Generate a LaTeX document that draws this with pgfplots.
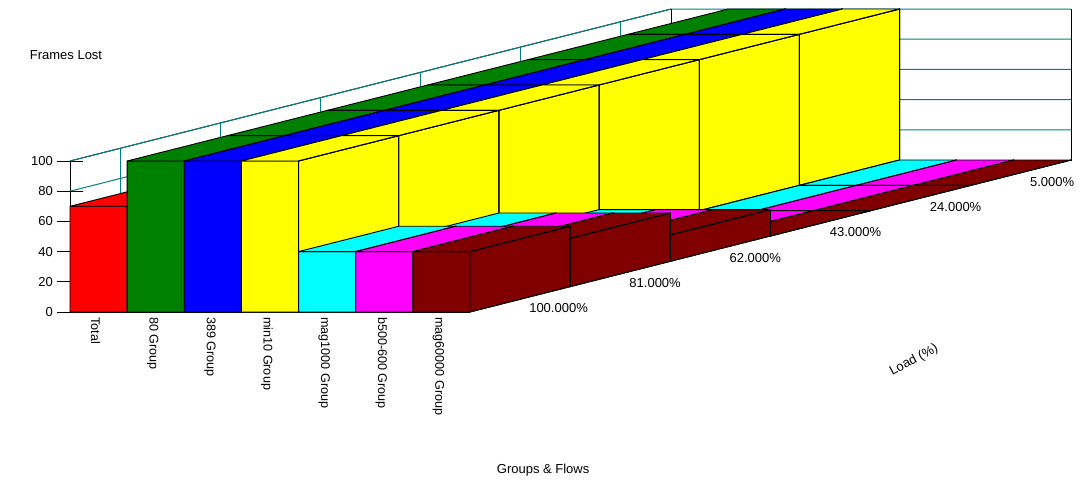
\documentclass[border=0pt]{standalone}
\usepackage{fontspec}
\setmainfont{Liberation Sans}
\usepackage{pgfplots}
\pgfplotsset{compat=1.18}
\definecolor{cmaroon}{HTML}{800000}
\definecolor{cgreen}{HTML}{008000}
\definecolor{cteal}{HTML}{008080}
\definecolor{cred}{HTML}{FF0000}
\definecolor{cblue}{HTML}{0000FF}
\definecolor{cyellow}{HTML}{FFFF00}
\definecolor{ccyan}{HTML}{00FFFF}
\definecolor{cmagenta}{HTML}{FF00FF}
% one bar: category index, load row, value, colour
\newcommand{\onebar}[4]{%
  \pgfmathtruncatemacro{\xa}{#1+1}%
  \pgfmathtruncatemacro{\yb}{#2+1}%
  \addplot3[fill=#4,draw=black,line width=0.9pt,line join=round] coordinates {(#1,#2,0)(\xa,#2,0)(\xa,\yb,0)(\xa,\yb,#3)(\xa,#2,#3)(#1,#2,#3)(#1,#2,0)};
  \addplot3[fill=#4,draw=black,line width=0.9pt,line join=round] coordinates {(#1,#2,#3)(\xa,#2,#3)(\xa,\yb,#3)(#1,\yb,#3)(#1,#2,#3)};
  \addplot3[draw=black,line width=0.9pt] coordinates {(\xa,#2,#3)(\xa,#2,0)(\xa,\yb,0)(\xa,\yb,#3)(\xa,#2,#3)};
}
% the six categories behind Total in one load row
\newcommand{\onerow}[7]{%
  \onebar{1}{#1}{#2}{cgreen}
  \onebar{2}{#1}{#3}{cblue}
  \onebar{3}{#1}{#4}{cyellow}
  \onebar{4}{#1}{#5}{ccyan}
  \onebar{5}{#1}{#6}{cmagenta}
  \onebar{6}{#1}{#7}{cmaroon}
}
\begin{document}
\begin{tikzpicture}
\path[use as bounding box] (0pt,0pt) rectangle (1086pt,479pt);
\begin{axis}[
  at={(70pt,167pt)},anchor=origin,
  x={(57.14pt,0pt)},y={(100.17pt,25.33pt)},z={(0pt,1.51pt)},
  xmin=0,xmax=7,ymin=0,ymax=6,zmin=0,zmax=100,
  clip=false,
  axis x line*=bottom,axis y line*=right,axis z line*=left,
  axis line style={black,line width=0.9pt,-},
  font=\fontsize{13}{13}\selectfont,
  /pgf/number format/assume math mode=true,
  xtick={0.5,1.5,2.5,3.5,4.5,5.5,6.5},
  xticklabels={Total,80 Group,389 Group,min10 Group,mag1000 Group,b500-600 Group,mag60000 Group},
  ytick={0.5,1.5,2.5,3.5,4.5,5.5},
  yticklabels={100.000\%,81.000\%,62.000\%,43.000\%,24.000\%,5.000\%},
  ztick={0,20,40,60,80,100},
  major tick length=0pt,
  tick style={draw=none},
  x tick label style={font=\fontsize{12.6}{13}\selectfont,rotate=-90,anchor=west,inner sep=0pt,xshift=5pt,yshift=-3pt},
  y tick label style={anchor=west,inner sep=0pt,xshift=409pt,yshift=-160pt},
  z tick label style={anchor=east,inner sep=0pt,xshift=-17pt},
  xlabel={Groups \& Flows},
  xlabel style={at={(axis cs:8.28,0,-104.6)},anchor=center,inner sep=0pt},
  ylabel={Load (\%)},
  ylabel style={at={(axis cs:14.77,0,-32)},anchor=center,rotate=28,inner sep=0pt},
  zlabel={Frames Lost},
  zlabel style={at={(axis cs:-0.07,0,170.2)},anchor=center,rotate=-90,inner sep=0pt},
]
% back walls
\addplot3[cteal,line width=1pt] coordinates {(0,0,20)(0,6,20)(7,6,20)};
\addplot3[cteal,line width=1pt] coordinates {(0,0,40)(0,6,40)(7,6,40)};
\addplot3[cteal,line width=1pt] coordinates {(0,0,60)(0,6,60)(7,6,60)};
\addplot3[cteal,line width=1pt] coordinates {(0,0,80)(0,6,80)(7,6,80)};
\addplot3[cteal,line width=1pt] coordinates {(0,0,100)(0,6,100)(7,6,100)};
\addplot3[cteal,line width=1pt] coordinates {(0,0.5,0)(0,0.5,100)};
\addplot3[cteal,line width=1pt] coordinates {(0,1.5,0)(0,1.5,100)};
\addplot3[cteal,line width=1pt] coordinates {(0,2.5,0)(0,2.5,100)};
\addplot3[cteal,line width=1pt] coordinates {(0,3.5,0)(0,3.5,100)};
\addplot3[cteal,line width=1pt] coordinates {(0,4.5,0)(0,4.5,100)};
\addplot3[cteal,line width=1pt] coordinates {(0,5.5,0)(0,5.5,100)};
\addplot3[black,line width=0.9pt] coordinates {(0,6,100)(0,6,0)(7,6,0)(7,6,100)};
% tick marks on the value axis
\addplot3[black,line width=0.9pt] coordinates {(-0.2275,0,0)(0.2275,0,0)};
\addplot3[black,line width=0.9pt] coordinates {(-0.2275,0,20)(0.2275,0,20)};
\addplot3[black,line width=0.9pt] coordinates {(-0.2275,0,40)(0.2275,0,40)};
\addplot3[black,line width=0.9pt] coordinates {(-0.2275,0,60)(0.2275,0,60)};
\addplot3[black,line width=0.9pt] coordinates {(-0.2275,0,80)(0.2275,0,80)};
\addplot3[black,line width=0.9pt] coordinates {(-0.2275,0,100)(0.2275,0,100)};
% rows, back to front
\onerow{5}{100}{100}{100}{0}{0}{0}
\onerow{4}{100}{100}{100}{0}{0}{0}
\onerow{3}{100}{100}{100}{0}{0}{0}
\onerow{2}{100}{100}{100}{17.5}{17.5}{17.5}
\onerow{1}{100}{100}{100}{32}{32}{32}
\onebar{0}{0}{70}{cred}
\onerow{0}{100}{100}{100}{40}{40}{40}
\end{axis}
\end{tikzpicture}
\end{document}
